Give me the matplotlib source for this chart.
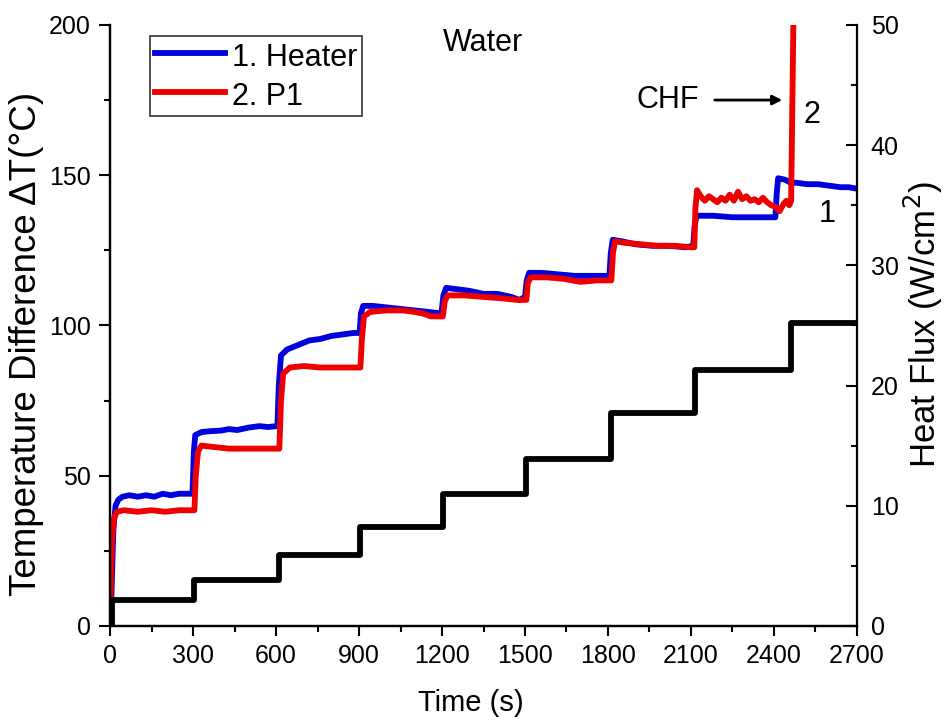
import matplotlib.pyplot as plt
from matplotlib.ticker import MultipleLocator

plt.rcParams['font.family'] = ['Liberation Sans', 'DejaVu Sans']

# Heater temperature difference (series 1)
heater_t = [0, 5, 12, 20, 30, 45, 70, 100, 130, 160, 190, 220, 250, 280, 298,
            303, 308, 330, 360, 400, 430, 460, 500, 540, 570, 605,
            610, 618, 640, 680, 720, 760, 800, 840, 880, 902,
            907, 915, 950, 1000, 1050, 1100, 1150, 1198,
            1205, 1215, 1260, 1300, 1350, 1400, 1450, 1480, 1500,
            1506, 1515, 1560, 1620, 1680, 1740, 1805,
            1810, 1817, 1850, 1900, 1960, 2020, 2080, 2108,
            2113, 2120, 2180, 2250, 2320, 2380, 2405,
            2410, 2415, 2440, 2460, 2480, 2520, 2560, 2600, 2640, 2670, 2700]
heater_dt = [0, 10, 32, 40, 42, 43, 43.5, 43, 43.5, 43, 44, 43.5, 44, 44, 44,
             58, 63.5, 64.5, 64.8, 65, 65.5, 65.2, 66, 66.5, 66.2, 66.5,
             80, 90, 92, 93.5, 95, 95.5, 96.5, 97, 97.5, 97.5,
             104, 106.5, 106.5, 106, 105.5, 105, 104.5, 104,
             110, 112.5, 112, 111.5, 110.5, 110.5, 109.5, 108.5, 109.5,
             115, 117.5, 117.5, 117, 116.5, 116.5, 116.5,
             124, 128.5, 128, 127, 126.5, 126.5, 126, 126.5,
             133, 136.5, 136.5, 136, 136, 136, 136,
             144, 149, 148.5, 147.5, 147.5, 147, 147, 146.5, 146, 146, 145.5]

# P1 temperature difference (series 2)
p1_t = [0, 3, 8, 15, 25, 50, 100, 150, 200, 250, 290, 305,
        310, 318, 330, 380, 430, 480, 540, 600, 612,
        618, 626, 650, 700, 760, 820, 880, 905,
        910, 918, 940, 1000, 1060, 1100, 1130, 1160, 1203,
        1210, 1220, 1280, 1350, 1420, 1470, 1505,
        1510, 1520, 1580, 1640, 1700, 1760, 1812,
        1818, 1825, 1860, 1920, 1980, 2040, 2100, 2112,
        2116, 2122, 2135, 2150, 2165, 2180, 2195, 2210, 2225, 2240, 2255,
        2270, 2285, 2300, 2315, 2330, 2345, 2360, 2375, 2390, 2405,
        2420, 2435, 2445, 2455, 2462, 2470, 2476]
p1_dt = [0, 15, 30, 36, 38, 38.5, 38, 38.5, 38, 38.5, 38.5, 38.5,
         50, 58, 60, 59.5, 59, 59, 59, 59, 59,
         75, 84, 86, 86.5, 86, 86, 86, 86,
         95, 103, 104.5, 105, 105, 104.5, 104, 103, 103,
         108, 110, 110, 109.5, 109, 108.5, 108.5,
         114, 116, 116, 115.5, 114.5, 115, 115,
         124, 128, 127.5, 127, 126.5, 126.5, 126, 126,
         139, 145, 143, 141.5, 143, 142, 141, 142.5, 141.5, 143.5, 141.5,
         144.5, 142, 143, 141.5, 142, 141, 142.5, 141, 140, 139.5,
         138, 140.5, 141.5, 140, 141.5, 200, 230]

# Applied heat flux (right axis)
flux_t = [0, 8, 305, 612, 905, 1203, 1505, 1810, 2115, 2462, 2700]
flux_q = [0, 2.2, 3.8, 5.9, 8.2, 11.0, 13.9, 17.7, 21.3, 25.2, 25.2]

fig = plt.figure(figsize=(9.46, 7.27), dpi=100)
ax = fig.add_axes([0.1163, 0.139, 0.7896, 0.8267])
ax2 = ax.twinx()

ax.plot(heater_t, heater_dt, color='#0000dd', lw=4.2, label='1. Heater')
ax.plot(p1_t, p1_dt, color='#ee0000', lw=4.2, label='2. P1')
ax2.plot(flux_t, flux_q, color='black', lw=4.2, drawstyle='steps-post')

ax.set_xlim(0, 2700)
ax.set_ylim(0, 200)
ax2.set_ylim(0, 50)

ax.xaxis.set_major_locator(MultipleLocator(300))
ax.xaxis.set_minor_locator(MultipleLocator(150))
ax.yaxis.set_major_locator(MultipleLocator(50))
ax.yaxis.set_minor_locator(MultipleLocator(25))
ax2.yaxis.set_major_locator(MultipleLocator(10))
ax2.yaxis.set_minor_locator(MultipleLocator(5))

for a in (ax, ax2):
    a.spines['top'].set_visible(False)
    for s in a.spines.values():
        s.set_linewidth(1.6)
ax.spines['right'].set_visible(False)

ax.tick_params(axis='x', which='major', direction='out', length=7, width=1.5, labelsize=18, pad=6)
ax.tick_params(axis='y', which='major', direction='out', length=8, width=1.5, labelsize=18, pad=6)
ax.tick_params(which='minor', direction='out', length=4, width=1.5)
ax2.tick_params(which='major', direction='in', length=8, width=1.5, labelsize=18, pad=10)
ax2.tick_params(which='minor', direction='in', length=4, width=1.5)

ax.set_xlabel('Time (s)', fontsize=21)
ax.set_ylabel('Temperature Difference ΔT(°C)', fontsize=26.5)
ax2.set_ylabel('Heat Flux (W/cm$^2$)', fontsize=25)
for lab in (ax.xaxis.label, ax.yaxis.label, ax2.yaxis.label):
    lab.set_va('center')
    lab.set_ha('center')
ax.xaxis.set_label_coords(0.483, -0.128)
ax.yaxis.set_label_coords(-0.112, 0.469)
ax2.yaxis.set_label_coords(1.089, 0.501)

ax.text(1348, 194, 'Water', fontsize=22, ha='center', va='center')
ax.text(2130, 175, 'CHF', fontsize=22, ha='right', va='center')
ax.annotate('', xy=(2440, 175), xytext=(2176, 175),
            arrowprops=dict(arrowstyle='-|>', color='black', lw=2, mutation_scale=14))
ax.text(2537, 170, '2', fontsize=22, ha='center', va='center')
ax.text(2592, 137, '1', fontsize=22, ha='center', va='center')

leg = ax.legend(loc='upper left', bbox_to_anchor=(0.0535, 0.9817), fontsize=22,
                handlelength=2.32, handleheight=1.15, handletextpad=0.2,
                labelspacing=0.2, borderpad=0.15, borderaxespad=0,
                fancybox=False, edgecolor='#333333', framealpha=1)
leg.get_frame().set_linewidth(1.2)

fig.savefig('out.png', dpi=100)
